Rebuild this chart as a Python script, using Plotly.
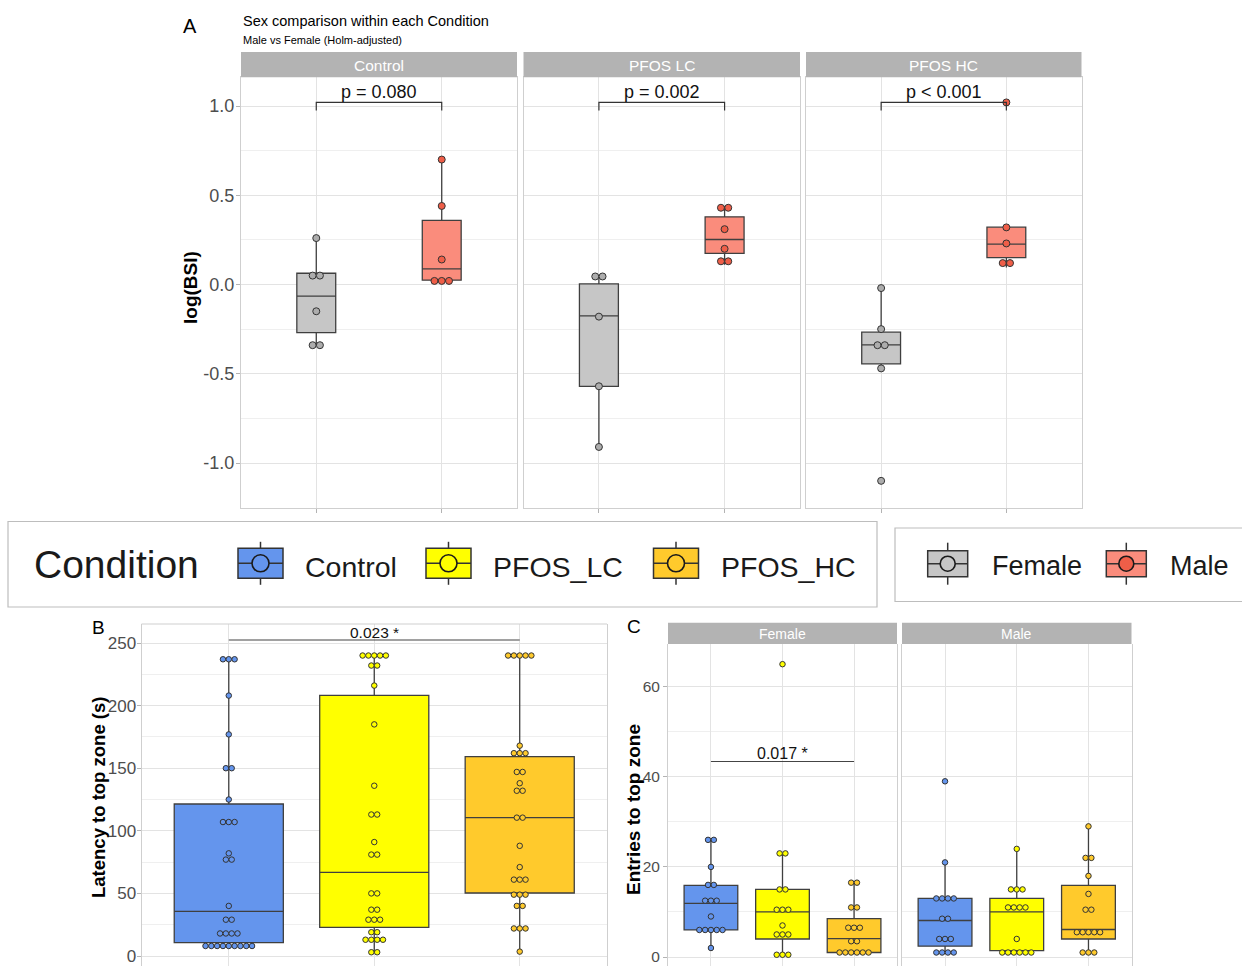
import plotly.graph_objects as go

W = 1242
H = 966  # page adds a few px below the figure; keep total at 970
FONT = "Liberation Sans, Arial, sans-serif"


def px(x):
    return x / W


def py(y):
    return 1 - y / H


# ---------------- Panel A data (log(BSI)) ----------------
a_conditions = ["Control", "PFOS LC", "PFOS HC"]
a_sexes = ["Female", "Male"]
a_pvalues = ["p = 0.080", "p = 0.002", "p < 0.001"]

a_ctrl_female = [0.26, 0.05, 0.05, -0.15, -0.34, -0.34]
a_ctrl_male = [0.70, 0.44, 0.14, 0.02, 0.02, 0.02]
a_lc_female = [0.045, 0.045, -0.18, -0.57, -0.91]
a_lc_male = [0.43, 0.43, 0.31, 0.20, 0.13, 0.13]
a_hc_female = [-0.02, -0.25, -0.34, -0.34, -0.47, -1.10]
a_hc_male = [1.02, 0.32, 0.23, 0.12, 0.12]

# box stats: q1, median, q3, lower whisker, upper whisker
a_ctrl_female_box = [-0.27, -0.065, 0.063, -0.34, 0.26]
a_ctrl_male_box = [0.024, 0.088, 0.359, 0.024, 0.70]
a_lc_female_box = [-0.571, -0.176, 0.004, -0.913, 0.045]
a_lc_male_box = [0.174, 0.252, 0.379, 0.11, 0.44]
a_hc_female_box = [-0.445, -0.338, -0.267, -0.469, -0.022]
a_hc_male_box = [0.151, 0.226, 0.321, 0.095, 0.321]

a_ticks = [-1.0, -0.5, 0.0, 0.5, 1.0]
a_tick_labels = ["-1.0", "-0.5", "0.0", "0.5", "1.0"]
a_bracket_y = 1.02
a_bracket_tip = 0.975

# ---------------- Panel B data (Latency) ----------------
b_conditions = ["Control", "PFOS_LC", "PFOS_HC"]
b_control = [237, 237, 237, 208, 177, 150, 150, 125, 107, 107, 107, 82, 77, 77, 40,
             29, 29, 18, 18, 18, 18, 8, 8, 8, 8, 8, 8, 8, 8, 8]
b_lc = [240, 240, 240, 240, 240, 232, 232, 216, 185, 136, 113, 113, 91, 81, 81,
        50, 50, 37, 37, 29, 29, 29, 19, 19, 13, 13, 13, 13, 3, 3]
b_hc = [240, 240, 240, 240, 240, 168, 162, 162, 162, 147, 147, 138, 132, 132, 110.5,
        110.5, 88, 71, 61, 61, 61, 49, 49, 49, 40, 40, 22, 22, 22, 3.5]
b_control_box = [10.7, 35.7, 121.4, 8, 237]
b_lc_box = [22.9, 66.8, 208.2, 3, 240]
b_hc_box = [50.3, 110.5, 159.2, 3.5, 240]
b_ticks = [0, 50, 100, 150, 200, 250]
b_pvalue = "0.023 *"
b_bracket_y = 252.4

# ---------------- Panel C data (Entries) ----------------
c_sexes = ["Female", "Male"]
c_f_control = [26, 26, 20, 16, 16, 12.5, 12.5, 12.5, 9, 6, 6, 6, 6, 6, 2]
c_f_lc = [65, 23, 23, 15, 15, 10.5, 10.5, 10.5, 7, 5, 5, 5, 0.5, 0.5, 0.5]
c_f_hc = [16.5, 16.5, 11, 11, 6.5, 6.5, 6.5, 3.5, 3.5, 1, 1, 1, 1, 1, 1]
c_m_control = [39, 21, 13, 13, 13, 13, 8.5, 8.5, 4, 4, 4, 1, 1, 1, 1]
c_m_lc = [24, 15, 15, 15, 11, 11, 11, 11, 4, 1, 1, 1, 1, 1, 1]
c_m_hc = [29, 22, 22, 18, 14, 10.5, 10.5, 5.5, 5.5, 5.5, 5.5, 5.5, 1, 1, 1]
c_f_control_box = [6.0, 11.9, 15.9, 2.0, 26.0]
c_f_lc_box = [4.0, 10.0, 15.0, 0.5, 23.0]
c_f_hc_box = [1.0, 4.1, 8.5, 1.0, 16.5]
c_m_control_box = [2.4, 8.1, 13.0, 1.0, 21.0]
c_m_lc_box = [1.4, 10.0, 13.0, 1.0, 24.0]
c_m_hc_box = [4.0, 6.1, 15.9, 1.0, 29.0]
c_ticks = [0, 20, 40, 60]
c_pvalue = "0.017 *"
c_bracket_y = 43.4

# ---------------- styles ----------------
COL_CTRL = "#6495ED"
COL_LC = "#FFFF00"
COL_HC = "#FFCA2C"
COL_FEMALE = "#C6C6C6"
COL_MALE = "#FA8C7C"
PT_FEMALE = "#ADADAD"
PT_MALE = "#EF5E48"
BOXLINE = "#3F3F3F"
GRID = "#E3E3E3"
MINOR = "#EFEFEF"
BORDER = "#CFCFCF"
TICKFONT = "#4D4D4D"
STRIP = "#B3B3B3"

fig = go.Figure()


def dot_offsets(values, step):
    counts = {}
    for v in values:
        counts[v] = counts.get(v, 0) + 1
    seen = {}
    out = []
    for v in values:
        n = counts[v]
        k = seen.get(v, 0)
        seen[v] = k + 1
        out.append((k - (n - 1) / 2) * step)
    return out


def add_group(xa, ya, pos, vals, box, fill, ptfill, width, step, msize):
    q1, med, q3, lo, hi = box
    fig.add_trace(go.Box(
        x=[pos], q1=[q1], median=[med], q3=[q3], lowerfence=[lo], upperfence=[hi],
        width=width, fillcolor=fill, line=dict(color=BOXLINE, width=1.3),
        whiskerwidth=0, boxpoints=False, xaxis=xa, yaxis=ya,
        showlegend=False, hoverinfo="skip"))
    offs = dot_offsets(vals, step)
    fig.add_trace(go.Scatter(
        x=[pos + o for o in offs], y=vals, mode="markers",
        marker=dict(size=msize, color=ptfill, line=dict(color="#333333", width=1)),
        xaxis=xa, yaxis=ya, showlegend=False, hoverinfo="skip"))


# Panel A
a_groups = [
    ("x", "y", a_ctrl_female, a_ctrl_female_box, a_ctrl_male, a_ctrl_male_box),
    ("x2", "y2", a_lc_female, a_lc_female_box, a_lc_male, a_lc_male_box),
    ("x3", "y3", a_hc_female, a_hc_female_box, a_hc_male, a_hc_male_box),
]
for xa, ya, fv, fb, mv, mb in a_groups:
    add_group(xa, ya, 1, fv, fb, COL_FEMALE, PT_FEMALE, 0.31, 0.058, 7)
    add_group(xa, ya, 2, mv, mb, COL_MALE, PT_MALE, 0.31, 0.058, 7)
    fig.add_trace(go.Scatter(
        x=[1, 1, 2, 2], y=[a_bracket_tip, a_bracket_y, a_bracket_y, a_bracket_tip],
        mode="lines", line=dict(color="#333333", width=1.2),
        xaxis=xa, yaxis=ya, showlegend=False, hoverinfo="skip"))

# Panel B
for pos, vals, box, col in [(1, b_control, b_control_box, COL_CTRL),
                            (2, b_lc, b_lc_box, COL_LC),
                            (3, b_hc, b_hc_box, COL_HC)]:
    add_group("x4", "y4", pos, vals, box, col, col, 0.75, 0.04, 5.5)
fig.add_trace(go.Scatter(x=[1, 3], y=[b_bracket_y, b_bracket_y], mode="lines",
                         line=dict(color="#444444", width=1.1), xaxis="x4", yaxis="y4",
                         showlegend=False, hoverinfo="skip"))

# Panel C
for xa, ya, groups in [
    ("x5", "y5", [(1, c_f_control, c_f_control_box, COL_CTRL),
                  (2, c_f_lc, c_f_lc_box, COL_LC),
                  (3, c_f_hc, c_f_hc_box, COL_HC)]),
    ("x6", "y6", [(1, c_m_control, c_m_control_box, COL_CTRL),
                  (2, c_m_lc, c_m_lc_box, COL_LC),
                  (3, c_m_hc, c_m_hc_box, COL_HC)]),
]:
    for pos, vals, box, col in groups:
        add_group(xa, ya, pos, vals, box, col, col, 0.75, 0.081, 5.5)
fig.add_trace(go.Scatter(x=[1, 3], y=[c_bracket_y, c_bracket_y], mode="lines",
                         line=dict(color="#444444", width=1.1), xaxis="x5", yaxis="y5",
                         showlegend=False, hoverinfo="skip"))


def xaxis_cfg(d0, d1, anchor, n, bottom_visible=True):
    d = dict(domain=[px(d0), px(d1)], range=[0.4, n + 0.6], anchor=anchor,
             tickvals=list(range(1, n + 1)), showticklabels=False,
             showgrid=True, gridcolor=GRID, gridwidth=1, zeroline=False,
             ticks="outside" if bottom_visible else "", ticklen=4, tickcolor="#B3B3B3",
             showline=bottom_visible, mirror=True, linecolor=BORDER, linewidth=1,
             fixedrange=True)
    return d


def yaxis_cfg(top, bottom, rng, anchor, tickvals, ticktext, minorvals, labels, fsize, standoff=0):
    d = dict(domain=[max(0.0, py(bottom)), py(top)], range=rng, anchor=anchor,
             tickvals=tickvals, ticktext=ticktext, showticklabels=labels,
             tickfont=dict(family=FONT, size=fsize, color=TICKFONT),
             showgrid=True, gridcolor=GRID, gridwidth=1, zeroline=False,
             ticks="outside" if labels else "", ticklen=4, tickcolor="#B3B3B3",
             showline=True, mirror=True, linecolor=BORDER, linewidth=1,
             minor=dict(tickvals=minorvals, showgrid=True, gridcolor=MINOR,
                        gridwidth=1, ticks=""),
             fixedrange=True)
    if labels and standoff:
        d["ticklabelstandoff"] = standoff
    return d


a_minor = [-0.75, -0.25, 0.25, 0.75]
a_range = [(284.5 - 507.5) / 178.5, (284.5 - 77.3) / 178.5]
b_range = [(956 - H) / 1.252, (956 - 624) / 1.252]
c_range = [(957 - H) / 4.505, (957 - 644) / 4.505]

layout = dict(
    width=W, height=H, margin=dict(l=0, r=0, t=0, b=0),
    paper_bgcolor="white", plot_bgcolor="white", showlegend=False,
    font=dict(family=FONT), boxmode="overlay",
    xaxis=xaxis_cfg(241, 517, "y", 2),
    xaxis2=xaxis_cfg(523.5, 800, "y2", 2),
    xaxis3=xaxis_cfg(806, 1081.5, "y3", 2),
    xaxis4=xaxis_cfg(141.5, 607, "y4", 3, False),
    xaxis5=xaxis_cfg(668, 897, "y5", 3, False),
    xaxis6=xaxis_cfg(902, 1131.5, "y6", 3, False),
    yaxis=yaxis_cfg(77.3, 507.5, a_range, "x", a_ticks, a_tick_labels, a_minor, True, 18, -2),
    yaxis2=yaxis_cfg(77.3, 507.5, a_range, "x2", a_ticks, a_tick_labels, a_minor, False, 18),
    yaxis3=yaxis_cfg(77.3, 507.5, a_range, "x3", a_ticks, a_tick_labels, a_minor, False, 18),
    yaxis4=yaxis_cfg(624, H, b_range, "x4", b_ticks, [str(t) for t in b_ticks],
                     [25, 75, 125, 175, 225], True, 17, -3),
    yaxis5=yaxis_cfg(644, H, c_range, "x5", c_ticks, [str(t) for t in c_ticks],
                     [10, 30, 50], True, 15.5),
    yaxis6=yaxis_cfg(644, H, c_range, "x6", c_ticks, [str(t) for t in c_ticks],
                     [10, 30, 50], False, 15.5),
)
fig.update_layout(**layout)

shapes = []
annotations = []


def text(x, y, s, size, color="#000000", anchor="center", bold=False, angle=0):
    annotations.append(dict(
        x=px(x), y=py(y), xref="paper", yref="paper", text=("<b>%s</b>" % s) if bold else s,
        showarrow=False, xanchor=anchor, yanchor="middle", textangle=angle,
        font=dict(family=FONT, size=size, color=color)))


def hline(x0, x1, y, color=BORDER):
    shapes.append(dict(type="line", xref="paper", yref="paper", x0=px(x0), x1=px(x1),
                       y0=py(y), y1=py(y), line=dict(color=color, width=1)))


# top borders of the lower panels (their bottoms run past the canvas)
hline(141.5, 607, 624)

# strips
for (x0, x1), label in zip([(241, 517), (523.5, 800), (806, 1081.5)], a_conditions):
    shapes.append(dict(type="rect", xref="paper", yref="paper", x0=px(x0), x1=px(x1),
                       y0=py(77.3), y1=py(52), fillcolor=STRIP, line=dict(width=0)))
    text((x0 + x1) / 2, 65, label, 15.5, "#FFFFFF")
for (x0, x1), label in zip([(668, 897), (902, 1131.5)], c_sexes):
    shapes.append(dict(type="rect", xref="paper", yref="paper", x0=px(x0), x1=px(x1),
                       y0=py(644), y1=py(622.7), fillcolor=STRIP, line=dict(width=0)))
    text((x0 + x1) / 2, 634, label, 14, "#FFFFFF")

# p-values
for i, p in enumerate(a_pvalues):
    xr = "x" if i == 0 else "x%d" % (i + 1)
    yr = "y" if i == 0 else "y%d" % (i + 1)
    annotations.append(dict(x=1.5, y=a_bracket_y, xref=xr, yref=yr, text=p, showarrow=False,
                            xanchor="center", yanchor="bottom", yshift=-2,
                            font=dict(family=FONT, size=18, color="#111111")))
annotations.append(dict(x=2, y=b_bracket_y, xref="x4", yref="y4", text=b_pvalue,
                        showarrow=False, xanchor="center", yanchor="bottom", yshift=-3,
                        font=dict(family=FONT, size=15.5, color="#111111")))
annotations.append(dict(x=2, y=c_bracket_y, xref="x5", yref="y5", text=c_pvalue,
                        showarrow=False, xanchor="center", yanchor="bottom", yshift=-3,
                        font=dict(family=FONT, size=16, color="#111111")))

# titles / labels
text(241, 21, "Sex comparison within each Condition", 14.5, anchor="left")
text(241, 40, "Male vs Female (Holm-adjusted)", 11, anchor="left")
text(190, 26, "A", 20)
text(98, 627, "B", 19)
text(634, 626, "C", 19)
text(190, 288, "log(BSI)", 19, bold=True, angle=-90)
text(98, 798, "Latency to top zone (s)", 18.5, bold=True, angle=-90)
text(633, 810, "Entries to top zone", 19, bold=True, angle=-90)

# legends
shapes.append(dict(type="rect", xref="paper", yref="paper", x0=px(8), x1=px(877),
                   y0=py(607), y1=py(521.5), line=dict(color="#BDBDBD", width=1.2),
                   fillcolor="white"))
shapes.append(dict(type="rect", xref="paper", yref="paper", x0=px(895), x1=px(1250),
                   y0=py(601.5), y1=py(528), line=dict(color="#BDBDBD", width=1.2),
                   fillcolor="white"))


def legend_icon(cx, cy, w, h, vh, color, d, ptcolor):
    shapes.append(dict(type="line", xref="paper", yref="paper", x0=px(cx), x1=px(cx),
                       y0=py(cy - vh / 2), y1=py(cy + vh / 2),
                       line=dict(color="#333333", width=1.5)))
    shapes.append(dict(type="rect", xref="paper", yref="paper", x0=px(cx - w / 2),
                       x1=px(cx + w / 2), y0=py(cy + h / 2), y1=py(cy - h / 2),
                       fillcolor=color, line=dict(color="#333333", width=1.5)))
    shapes.append(dict(type="line", xref="paper", yref="paper", x0=px(cx - w / 2),
                       x1=px(cx + w / 2), y0=py(cy), y1=py(cy),
                       line=dict(color="#333333", width=1.5)))
    shapes.append(dict(type="circle", xref="paper", yref="paper", x0=px(cx - d / 2),
                       x1=px(cx + d / 2), y0=py(cy + d / 2), y1=py(cy - d / 2),
                       fillcolor=ptcolor, line=dict(color="#1A1A1A", width=1.6)))


text(32, 564, "Condition", 39, "#1A1A1A", anchor="left")
for cx, col, lx, lab in [(260.5, COL_CTRL, 303, "Control"),
                         (448.5, COL_LC, 491, "PFOS_LC"),
                         (676, COL_HC, 719, "PFOS_HC")]:
    legend_icon(cx, 563.3, 45, 30, 43, col, 17, col)
    text(lx, 567, lab, 28.5, "#1A1A1A", anchor="left")
for cx, col, ptc, lx, lab in [(947.7, COL_FEMALE, COL_FEMALE, 990, "Female"),
                              (1126.3, COL_MALE, PT_MALE, 1168, "Male")]:
    legend_icon(cx, 563.7, 40, 26, 42, col, 15, ptc)
    text(lx, 566, lab, 27, "#1A1A1A", anchor="left")

fig.update_layout(shapes=shapes, annotations=annotations)

POST = (
    "var de=document.documentElement,b=document.body;"
    "de.style.margin='0';de.style.padding='0';de.style.overflow='hidden';"
    "b.style.margin='0';b.style.padding='0';b.style.overflow='hidden';"
)
fig.write_html("out.html", config={"displayModeBar": False}, post_script=POST)
